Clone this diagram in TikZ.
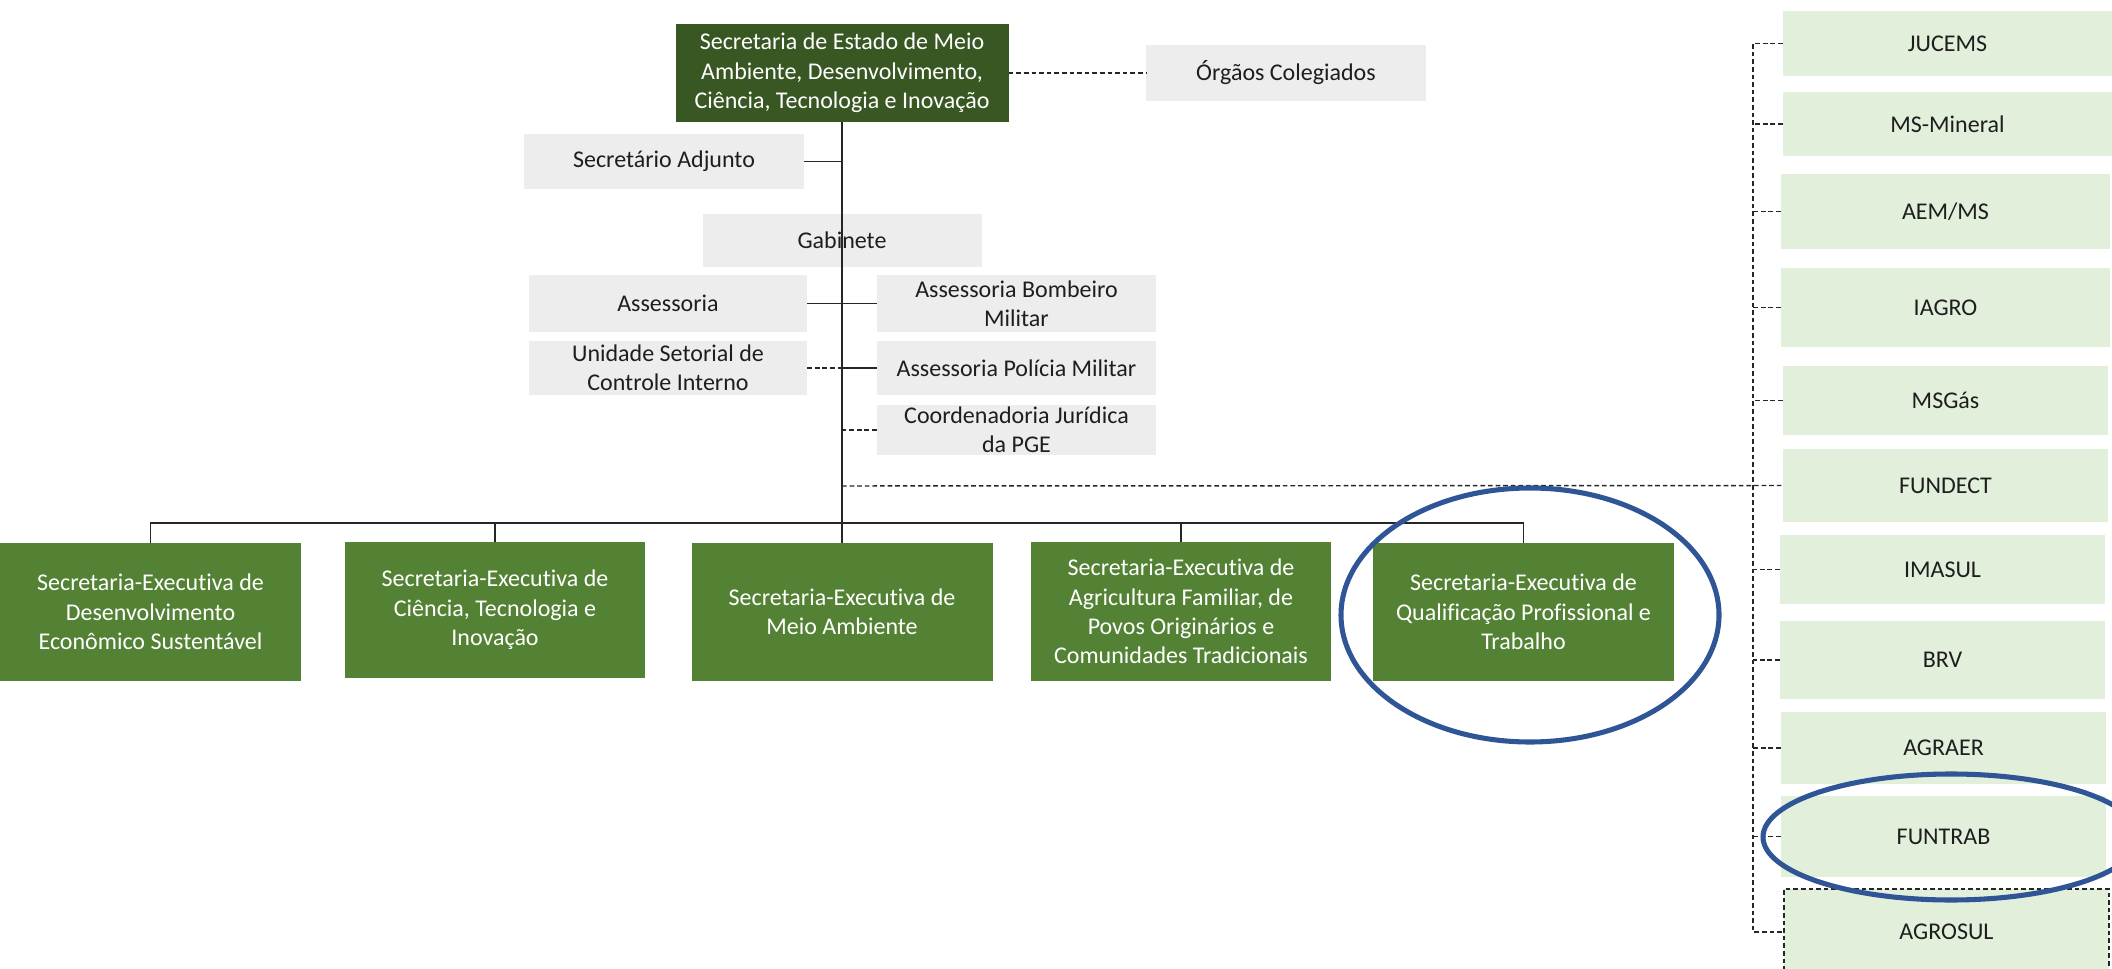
\documentclass[tikz,border=0pt]{standalone}
\usepackage{fontspec}
\setmainfont{Carlito}[Ligatures={NoCommon}]
\definecolor{boxgrey}{HTML}{EDEDED}
\definecolor{lightgreen}{HTML}{E2EFDA}
\definecolor{darkgreen}{HTML}{385723}
\definecolor{midgreen}{HTML}{548235}
\definecolor{txtdark}{HTML}{1E1E1E}
\definecolor{linecol}{HTML}{262626}
\definecolor{ringblue}{HTML}{2F5597}
\tikzset{
  px/.style 2 args={minimum width=#1*0.75pt, minimum height=#2*0.75pt},
  box/.style={rectangle, inner sep=0pt, align=center, font=\fontsize{18pt}{22pt}\selectfont},
  grey/.style={box, fill=boxgrey, text=txtdark},
  lgreen/.style={box, fill=lightgreen, text=txtdark},
  dgreen/.style={box, fill=darkgreen, text=white},
  mgreen/.style={box, fill=midgreen, text=white},
  conn/.style={line width=1.1pt, draw=linecol},
  dsh/.style={conn, dash pattern=on 3.5pt off 2.2pt},
  ring/.style={draw=ringblue, line width=3.8pt}
}
\begin{document}
\begin{tikzpicture}[x=0.75pt,y=-0.75pt]
\useasboundingbox (0,0) rectangle (2112,969);

% top part
\node[dgreen, px={333}{98}] (top) at (842,73) {Secretaria de Estado de Meio\\Ambiente, Desenvolvimento,\\Ciência, Tecnologia e Inovação};
\node[grey, px={280}{56}] (org) at (1286,73) {Órgãos Colegiados};
\node[grey, px={280}{55}] (adj) at (664,161.5) {Secretário Adjunto};
\node[grey, px={279}{53}] (gab) at (842,240.5) {Gabinete};
\node[grey, px={278}{57}] (ass) at (668,303.5) {Assessoria};
\node[grey, px={279}{57}] (bom) at (1016.5,303.5) {Assessoria Bombeiro\\Militar};
\node[grey, px={278}{54}] (uni) at (668,368) {Unidade Setorial de\\Controle Interno};
\node[grey, px={279}{54}] (pol) at (1016.5,368) {Assessoria Polícia Militar};
\node[grey, px={279}{50}] (coo) at (1016.5,430) {Coordenadoria Jurídica\\da PGE};

% executive secretariats
\node[mgreen, px={301}{138}] (se1) at (150.5,612) {Secretaria-Executiva de\\Desenvolvimento\\Econômico Sustentável};
\node[mgreen, px={300}{136}] (se2) at (495,610) {Secretaria-Executiva de\\Ciência, Tecnologia e\\Inovação};
\node[mgreen, px={301}{138}] (se3) at (842,612) {Secretaria-Executiva de\\Meio Ambiente};
\node[mgreen, px={300}{139}] (se4) at (1181,611.5) {Secretaria-Executiva de\\Agricultura Familiar, de\\Povos Originários e\\Comunidades Tradicionais};
\node[mgreen, px={301}{138}] (se5) at (1523.5,612) {Secretaria-Executiva de\\Qualificação Profissional e\\Trabalho};

% right column
\node[lgreen, px={329}{65}] (juc) at (1947.5,43.5) {JUCEMS};
\node[lgreen, px={329}{64}] (msm) at (1947.5,124) {MS-Mineral};
\node[lgreen, px={329}{75}] (aem) at (1945.5,211.5) {AEM/MS};
\node[lgreen, px={329}{79}] (iag) at (1945.5,307.5) {IAGRO};
\node[lgreen, px={325}{69}] (msg) at (1945.5,400.5) {MSGás};
\node[lgreen, px={325}{73}] (fun) at (1945.5,485.5) {FUNDECT};
\node[lgreen, px={325}{69}] (ima) at (1942.5,569.5) {IMASUL};
\node[lgreen, px={325}{78}] (brv) at (1942.5,660) {BRV};
\node[lgreen, px={325}{72}] (agr) at (1943.5,748) {AGRAER};
\node[lgreen, px={325}{81}] (ftr) at (1943.5,836.5) {FUNTRAB};
\node[lgreen, px={325}{86}, dsh] (ags) at (1946.5,932) {AGROSUL};

% coordinates
\coordinate (bus) at (842,523);
\coordinate (dj) at (842,486);
\coordinate (vl) at (1753,0);

% connectors
\draw[conn] (top.south) -- (se3.north);
\draw[dsh] (top.east) -- (org.west);
\draw[conn] (adj.east) -- (adj.east -| top.south);
\draw[conn] (ass.east) -- (bom.west);
\draw[dsh] (uni.east) -- (uni.east -| top.south);
\draw[conn] (pol.west) -- (pol.west -| top.south);
\draw[dsh] (coo.west) -- (coo.west -| top.south);
\draw[conn] (se1.north) -- (se1.north |- bus) -- (se5.north |- bus) -- (se5.north);
\draw[conn] (se2.north) -- (se2.north |- bus);
\draw[conn] (se4.north) -- (se4.north |- bus);
\draw[dsh] (dj) -- (fun.west);

\draw[dsh] (juc.west) -- (juc.west -| vl) -- (ags.west -| vl) -- (ags.west);
\foreach \n in {msm,aem,iag,msg,ima,brv,agr,ftr}
  \draw[dsh] (\n.west) -- (\n.west -| vl);

% highlight rings
\draw[ring] (1530,615) ellipse [x radius=141.75pt, y radius=95.25pt];
\draw[ring] (1951,837) ellipse [x radius=141pt, y radius=47.25pt];
\end{tikzpicture}
\end{document}
